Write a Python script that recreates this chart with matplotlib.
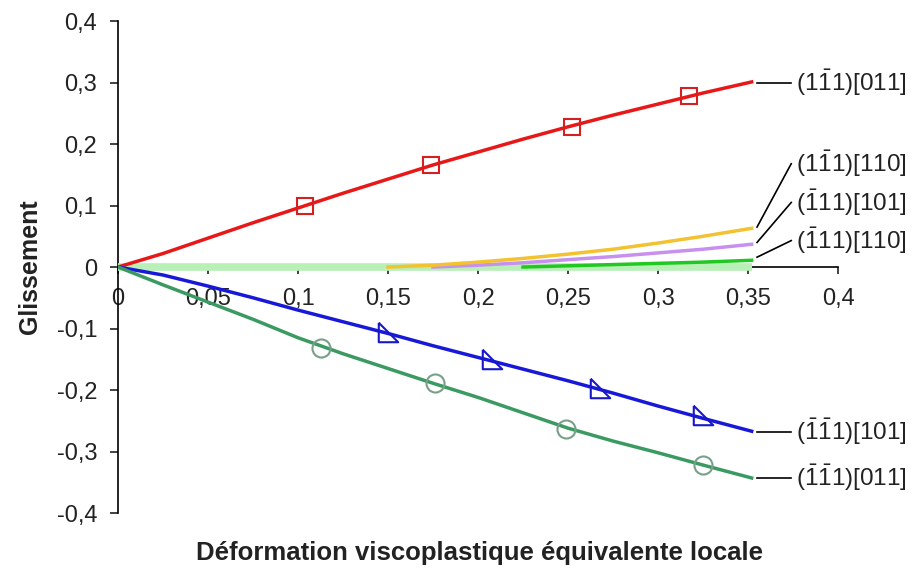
import matplotlib
matplotlib.use("Agg")
import matplotlib.pyplot as plt
from matplotlib.ticker import FuncFormatter

plt.rcParams['font.family'] = ['Liberation Sans', 'DejaVu Sans']
plt.rcParams['mathtext.fontset'] = 'custom'
plt.rcParams['mathtext.rm'] = 'Liberation Sans'
plt.rcParams['mathtext.it'] = 'Liberation Sans:italic'
plt.rcParams['mathtext.bf'] = 'Liberation Sans:bold'

nan = float('nan')

# strain axis
x = [0, 0.025, 0.05, 0.075, 0.1, 0.125, 0.15, 0.175, 0.2, 0.225, 0.25, 0.275, 0.3, 0.325, 0.352]

red = [0, 0.022, 0.047, 0.072, 0.096, 0.120, 0.143, 0.166, 0.187, 0.208, 0.228, 0.247, 0.265, 0.283, 0.301]
gold = [nan, nan, nan, nan, nan, nan, 0.0, 0.003, 0.008, 0.014, 0.021, 0.029, 0.039, 0.050, 0.063]
purple = [nan, nan, nan, nan, nan, nan, nan, 0.0, 0.003, 0.007, 0.012, 0.017, 0.023, 0.029, 0.037]
bright_green = [nan, nan, nan, nan, nan, nan, nan, nan, nan, 0.0, 0.002, 0.004, 0.006, 0.008, 0.011]
pale_green = [0] * 15
blue = [0, -0.013, -0.031, -0.050, -0.070, -0.089, -0.108, -0.128, -0.147, -0.166, -0.185, -0.205, -0.226, -0.246, -0.267]
dark_green = [0, -0.029, -0.057, -0.085, -0.115, -0.141, -0.165, -0.189, -0.212, -0.237, -0.262, -0.283, -0.302, -0.322, -0.343]

# marker positions
red_mx = [0.104, 0.174, 0.252, 0.317]
red_my = [0.099, 0.166, 0.228, 0.278]
blue_mx = [0.150, 0.208, 0.268, 0.325]
blue_my = [-0.106, -0.150, -0.196, -0.240]
green_mx = [0.113, 0.176, 0.249, 0.325]
green_my = [-0.131, -0.189, -0.264, -0.322]

labels = [r'$(1\bar{1}1)[011]$', r'$(1\bar{1}1)[110]$', r'$(\bar{1}11)[101]$',
          r'$(\bar{1}11)[110]$', r'$(\bar{1}\bar{1}1)[101]$', r'$(\bar{1}\bar{1}1)[011]$']
label_y = [0.300, 0.168, 0.105, 0.043, -0.268, -0.343]
line_start_y = [0.300, 0.065, 0.040, 0.016, -0.268, -0.343]

fig = plt.figure(figsize=(9.2, 5.72), dpi=100)
ax = fig.add_axes([0.1283, 0.1031, 0.7826, 0.8601])

ax.plot(x, pale_green, color='#b8f0b8', lw=5.5, zorder=3, solid_capstyle='butt')
ax.plot(x, bright_green, color='#22c822', lw=2.5, zorder=4)
ax.plot(x, purple, color='#c890ee', lw=2.5, zorder=4)
ax.plot(x, gold, color='#f2c230', lw=2.5, zorder=4)
ax.plot(x, red, color='#e81818', lw=2.5, zorder=5)
ax.plot(x, blue, color='#1818d8', lw=2.5, zorder=5)
ax.plot(x, dark_green, color='#3a9a62', lw=2.5, zorder=5)

ax.plot(red_mx, red_my, ls='none', marker='s', ms=12, mfc='none', mec='#d42020', mew=1.5, zorder=6)
tri = [(-1, 1), (-1, -1), (1, -1), (-1, 1)]
ax.plot(blue_mx, blue_my, ls='none', marker=tri, ms=14, mfc='none', mec='#1818c8', mew=1.5, zorder=6)
ax.plot(green_mx, green_my, ls='none', marker='o', ms=13, mfc='none', mec='#78a088', mew=1.5, zorder=6)

# labels with leader lines
for lab, ly, sy in zip(labels, label_y, line_start_y):
    ax.plot([0.355, 0.374], [sy, ly], color='black', lw=1.2, clip_on=False)
    ax.text(0.3765, ly, lab, fontsize=17.5, ha='left', va='center', color='#222222')

ax.set_xlim(0, 0.4)
ax.set_ylim(-0.4, 0.4)
ax.set_xticks([0, 0.05, 0.1, 0.15, 0.2, 0.25, 0.3, 0.35, 0.4])
ax.set_yticks([-0.4, -0.3, -0.2, -0.1, 0, 0.1, 0.2, 0.3, 0.4])

def fmt(v, pos):
    if abs(v) < 1e-9:
        return '0'
    return ('%g' % round(v, 3)).replace('.', ',')

ax.xaxis.set_major_formatter(FuncFormatter(fmt))
ax.yaxis.set_major_formatter(FuncFormatter(fmt))

ax.spines['top'].set_visible(False)
ax.spines['right'].set_visible(False)
ax.spines['bottom'].set_position(('data', 0))
ax.spines['left'].set_linewidth(1.2)
ax.spines['bottom'].set_linewidth(1.2)
ax.tick_params(axis='x', direction='out', length=5, width=1.2, labelsize=17, pad=10, colors='#222222')
ax.tick_params(axis='y', direction='out', length=6, width=1.2, labelsize=17, pad=9, colors='#222222')

fig.text(0.521, 0.033, 'Déformation viscoplastique équivalente locale', fontsize=18.5,
         fontweight='bold', ha='center', va='center', color='#222222')
fig.text(0.033, 0.533, 'Glissement', fontsize=18, fontweight='bold', rotation=90,
         ha='center', va='center', color='#222222')

fig.savefig('out.png', dpi=100)
